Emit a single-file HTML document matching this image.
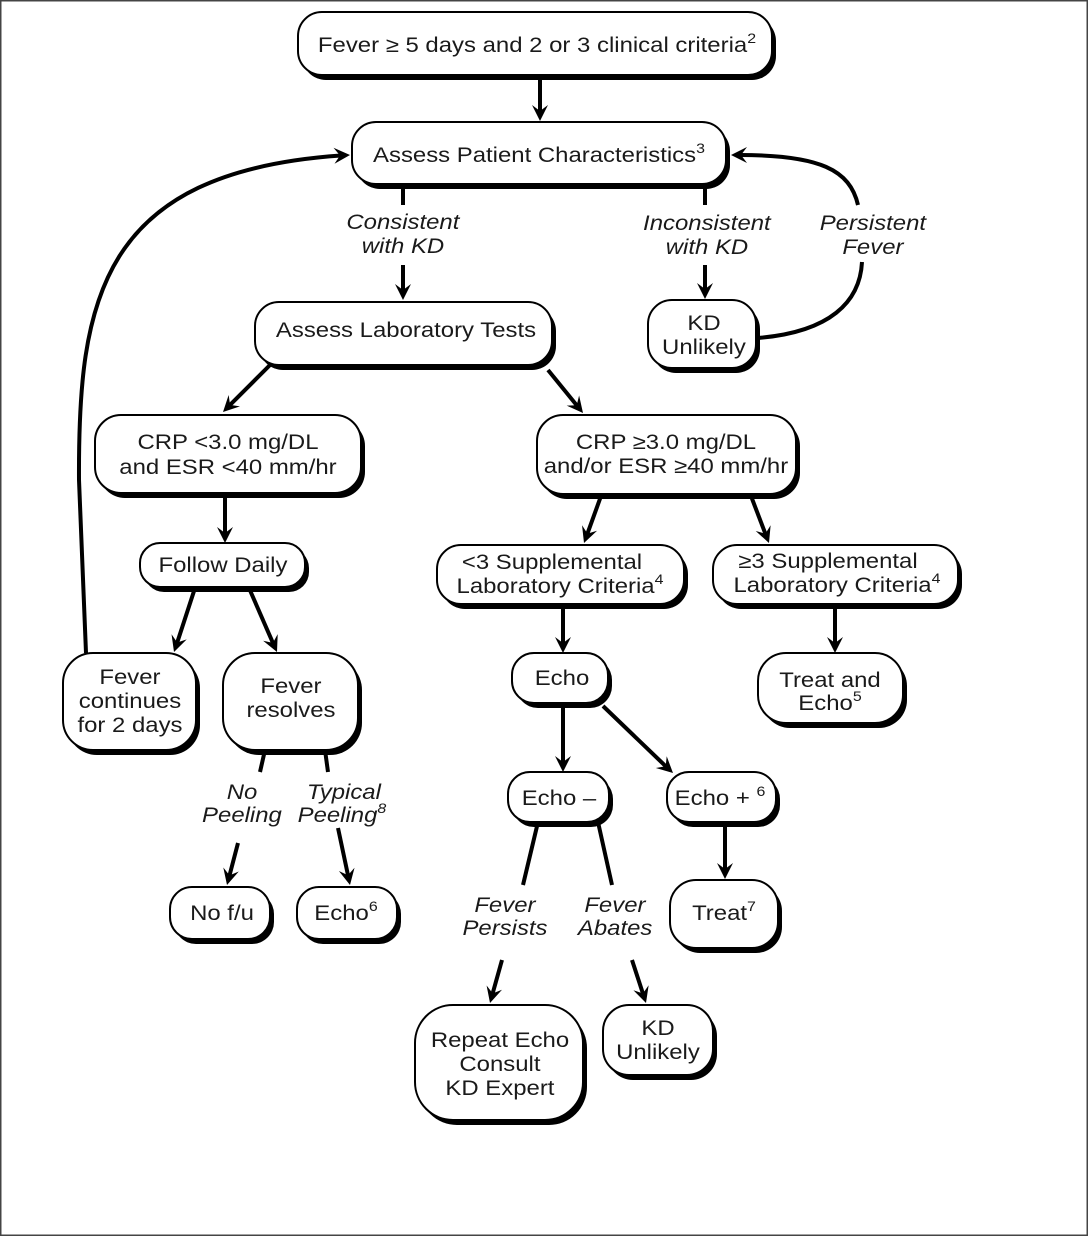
<!DOCTYPE html>
<html><head><meta charset="utf-8">
<style>
html,body{margin:0;padding:0;background:#fff;}
svg{display:block;}
text{font-family:"Liberation Sans",Arial,sans-serif;font-size:21px;fill:#1a1a1a;text-anchor:middle;transform-box:fill-box;transform-origin:center;transform:scaleX(1.14);}
.i{font-style:italic;}
.s{font-size:14px;}
.ln{stroke:#000;stroke-width:4;fill:none;stroke-linecap:butt;}
.sh{fill:#000;}
.bx{fill:#fff;stroke:#000;stroke-width:2;}
.ah{fill:#000;stroke:none;}
</style></head>
<body>
<svg width="1089" height="1237" viewBox="0 0 1089 1237" xmlns="http://www.w3.org/2000/svg">
<rect x="0" y="0" width="1089" height="1237" fill="#fff"/>
<rect x="0.75" y="0.75" width="1086.5" height="1234.5" fill="none" stroke="#444" stroke-width="1.5"/>

<!-- connectors -->
<g class="ln">
  <line x1="540" y1="76" x2="540" y2="112"/>
  <line x1="403" y1="184" x2="403" y2="205"/>
  <line x1="705" y1="184" x2="705" y2="205"/>
  <line x1="403" y1="265" x2="403" y2="291"/>
  <line x1="705" y1="265" x2="705" y2="290"/>
  <line x1="270" y1="365" x2="229.4" y2="405.6"/>
  <line x1="548" y1="370" x2="577.3" y2="406"/>
  <line x1="225" y1="495" x2="225" y2="534"/>
  <line x1="601" y1="496" x2="587.1" y2="534.6"/>
  <line x1="751" y1="496" x2="765.7" y2="534.6"/>
  <line x1="195" y1="588" x2="176.9" y2="643.5"/>
  <line x1="249" y1="588" x2="273.3" y2="643.8"/>
  <path d="M86,653 L79,480 C78,300 100,172 341,155.5"/>
  <path d="M858,205 C850,170 820,155 740,155"/>
  <path d="M862,262 C860,302 830,332 758,338"/>
  <line x1="265" y1="750" x2="260" y2="772"/>
  <line x1="325" y1="750" x2="328" y2="772"/>
  <line x1="238" y1="843" x2="229.3" y2="876.3"/>
  <line x1="338" y1="828" x2="348.2" y2="876.2"/>
  <line x1="563" y1="604" x2="563" y2="644"/>
  <line x1="835" y1="604" x2="835" y2="644"/>
  <line x1="563" y1="703" x2="563" y2="763"/>
  <line x1="603" y1="706" x2="666.4" y2="766.9"/>
  <line x1="725" y1="822" x2="725" y2="870"/>
  <line x1="538" y1="822" x2="523" y2="885"/>
  <line x1="598" y1="822" x2="612" y2="885"/>
  <line x1="502" y1="960" x2="492.4" y2="994.3"/>
  <line x1="632" y1="960" x2="643.2" y2="994.4"/>
</g>

<!-- arrowheads -->
<g class="ah">
  <polygon points="540,121 532,105 540,111 548,105"/>
  <polygon points="403,300 395,284 403,290 411,284"/>
  <polygon points="705,299 697,283 705,289 713,283"/>
  <polygon points="223,412 239.97,406.35 230.07,404.93 228.65,395.03"/>
  <polygon points="583,413 566.69,405.64 576.69,405.24 579.11,395.54"/>
  <polygon points="225,543 217,527 225,533 233,527"/>
  <polygon points="584,543 582.05,525.21 587.47,533.62 597.05,530.77"/>
  <polygon points="769,543 755.72,531.01 765.36,533.69 770.62,525.19"/>
  <polygon points="174,652 171.55,634.28 177.21,642.53 186.71,639.42"/>
  <polygon points="277,652 263.12,640.72 272.88,642.89 277.7,634.12"/>
  <polygon points="350,155 334.5,163.8 340,155.5 333.5,147.8"/>
  <polygon points="731,155 747,163 741,155 747,147"/>
  <polygon points="227,885 223.31,867.5 229.53,875.33 238.79,871.56"/>
  <polygon points="350,885 338.87,870.99 347.94,875.21 354.53,867.69"/>
  <polygon points="563,653 555,637 563,643 571,637"/>
  <polygon points="835,653 827,637 835,643 843,637"/>
  <polygon points="563,772 555,756 563,762 571,756"/>
  <polygon points="673,773 655.83,767.98 665.67,766.2 666.71,756.26"/>
  <polygon points="725,879 717,863 725,869 733,863"/>
  <polygon points="490,1003 486.6,985.44 492.69,993.37 502,989.74"/>
  <polygon points="646,1003 633.43,990.26 642.9,993.49 648.65,985.3"/>
</g>

<!-- boxes: shadow then box -->
<g>
  <rect class="sh" x="302" y="17" width="474" height="63" rx="24"/>
  <rect class="bx" x="298" y="12" width="474" height="63" rx="24"/>

  <rect class="sh" x="356" y="127" width="374" height="62" rx="24"/>
  <rect class="bx" x="352" y="122" width="374" height="62" rx="24"/>

  <rect class="sh" x="259" y="307" width="297" height="63" rx="24"/>
  <rect class="bx" x="255" y="302" width="297" height="63" rx="24"/>

  <rect class="sh" x="652" y="305" width="108" height="68" rx="24"/>
  <rect class="bx" x="648" y="300" width="108" height="68" rx="24"/>

  <rect class="sh" x="99" y="420" width="266" height="78" rx="26"/>
  <rect class="bx" x="95" y="415" width="266" height="78" rx="26"/>

  <rect class="sh" x="541" y="420" width="259" height="79" rx="26"/>
  <rect class="bx" x="537" y="415" width="259" height="79" rx="26"/>

  <rect class="sh" x="144" y="548" width="165" height="44" rx="20"/>
  <rect class="bx" x="140" y="543" width="165" height="44" rx="20"/>

  <rect class="sh" x="67" y="658" width="133" height="97" rx="30"/>
  <rect class="bx" x="63" y="653" width="133" height="97" rx="30"/>

  <rect class="sh" x="227" y="658" width="135" height="97" rx="32"/>
  <rect class="bx" x="223" y="653" width="135" height="97" rx="32"/>

  <rect class="sh" x="174" y="892" width="100" height="52" rx="22"/>
  <rect class="bx" x="170" y="887" width="100" height="52" rx="22"/>

  <rect class="sh" x="301" y="892" width="100" height="52" rx="22"/>
  <rect class="bx" x="297" y="887" width="100" height="52" rx="22"/>

  <rect class="sh" x="441" y="550" width="247" height="59" rx="24"/>
  <rect class="bx" x="437" y="545" width="247" height="59" rx="24"/>

  <rect class="sh" x="717" y="550" width="245" height="59" rx="24"/>
  <rect class="bx" x="713" y="545" width="245" height="59" rx="24"/>

  <rect class="sh" x="516" y="658" width="96" height="50" rx="22"/>
  <rect class="bx" x="512" y="653" width="96" height="50" rx="22"/>

  <rect class="sh" x="762" y="658" width="145" height="70" rx="28"/>
  <rect class="bx" x="758" y="653" width="145" height="70" rx="28"/>

  <rect class="sh" x="512" y="777" width="101" height="50" rx="22"/>
  <rect class="bx" x="508" y="772" width="101" height="50" rx="22"/>

  <rect class="sh" x="671" y="777" width="109" height="50" rx="22"/>
  <rect class="bx" x="667" y="772" width="109" height="50" rx="22"/>

  <rect class="sh" x="674" y="885" width="108" height="68" rx="26"/>
  <rect class="bx" x="670" y="880" width="108" height="68" rx="26"/>

  <rect class="sh" x="419" y="1010" width="168" height="115" rx="38"/>
  <rect class="bx" x="415" y="1005" width="168" height="115" rx="38"/>

  <rect class="sh" x="607" y="1010" width="110" height="70" rx="26"/>
  <rect class="bx" x="603" y="1005" width="110" height="70" rx="26"/>
</g>

<!-- box text -->
<text x="537" y="52">Fever ≥ 5 days and 2 or 3 clinical criteria<tspan class="s" dy="-9">2</tspan></text>
<text x="539" y="162">Assess Patient Characteristics<tspan class="s" dy="-9">3</tspan></text>
<text x="406" y="337">Assess Laboratory Tests</text>
<text x="704" y="330">KD</text>
<text x="704" y="354">Unlikely</text>
<text x="228" y="449">CRP &lt;3.0 mg/DL</text>
<text x="228" y="474">and ESR &lt;40 mm/hr</text>
<text x="666" y="449">CRP ≥3.0 mg/DL</text>
<text x="666" y="473">and/or ESR ≥40 mm/hr</text>
<text x="223" y="572">Follow Daily</text>
<text x="130" y="684">Fever</text>
<text x="130" y="708">continues</text>
<text x="130" y="732">for 2 days</text>
<text x="291" y="693">Fever</text>
<text x="291" y="717">resolves</text>
<text x="222" y="920">No f/u</text>
<text x="346" y="920">Echo<tspan class="s" dy="-9">6</tspan></text>
<text x="552" y="569">&lt;3 Supplemental</text>
<text x="560" y="593">Laboratory Criteria<tspan class="s" dy="-9">4</tspan></text>
<text x="828" y="568">≥3 Supplemental</text>
<text x="837" y="592">Laboratory Criteria<tspan class="s" dy="-9">4</tspan></text>
<text x="562" y="685">Echo</text>
<text x="830" y="687">Treat and</text>
<text x="830" y="710">Echo<tspan class="s" dy="-9">5</tspan></text>
<text x="559" y="805">Echo –</text>
<text x="720" y="805">Echo + <tspan class="s" dy="-9">6</tspan></text>
<text x="724" y="920">Treat<tspan class="s" dy="-9">7</tspan></text>
<text x="500" y="1047">Repeat Echo</text>
<text x="500" y="1071">Consult</text>
<text x="500" y="1095">KD Expert</text>
<text x="658" y="1035">KD</text>
<text x="658" y="1059">Unlikely</text>

<!-- italic labels -->
<text class="i" x="403" y="229">Consistent</text>
<text class="i" x="403" y="253">with KD</text>
<text class="i" x="707" y="230">Inconsistent</text>
<text class="i" x="707" y="254">with KD</text>
<text class="i" x="873" y="230">Persistent</text>
<text class="i" x="873" y="254">Fever</text>
<text class="i" x="242" y="799">No</text>
<text class="i" x="242" y="822">Peeling</text>
<text class="i" x="344" y="799">Typical</text>
<text class="i" x="342" y="822">Peeling<tspan class="s" dy="-9">8</tspan></text>
<text class="i" x="505" y="912">Fever</text>
<text class="i" x="505" y="935">Persists</text>
<text class="i" x="615" y="912">Fever</text>
<text class="i" x="615" y="935">Abates</text>
</svg>
</body></html>
